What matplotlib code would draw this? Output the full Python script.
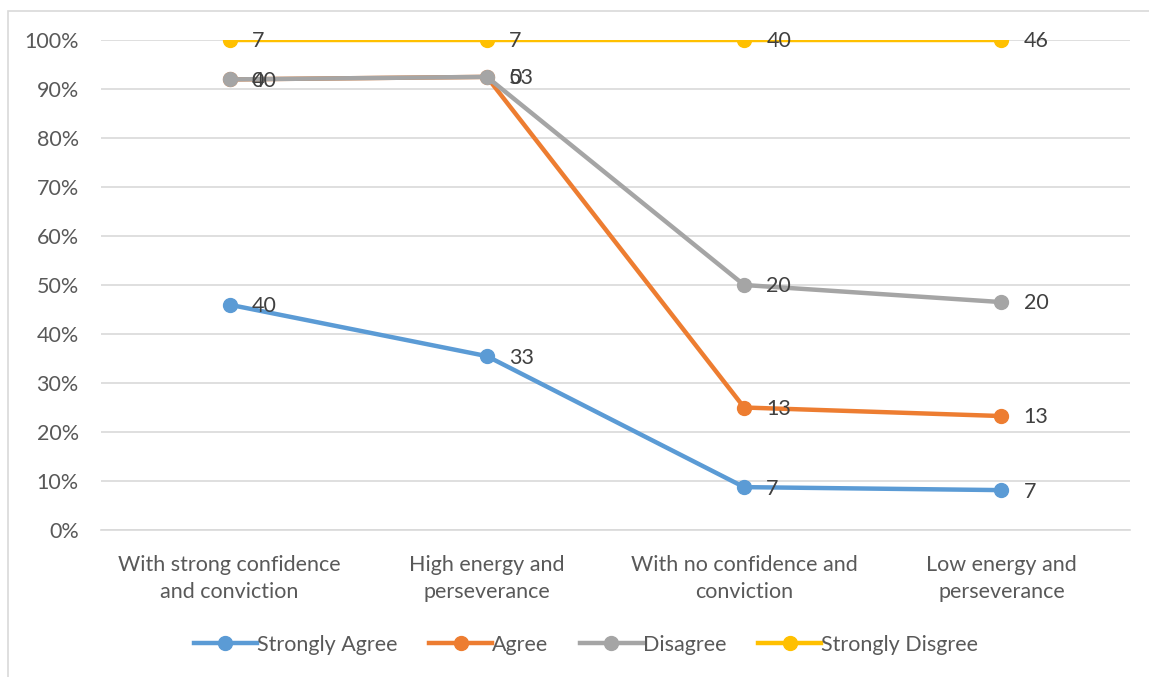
import numpy as np
import matplotlib.pyplot as plt
from matplotlib.patches import Rectangle

plt.rcParams['font.family'] = ['Lato', 'DejaVu Sans']

categories = ['With strong confidence\nand conviction', 'High energy and\nperseverance',
              'With no confidence and\nconviction', 'Low energy and\nperseverance']
series_names = ['Strongly Agree', 'Agree', 'Disagree', 'Strongly Disgree']
strongly_agree = [40, 33, 7, 7]
agree = [40, 53, 13, 13]
disagree = [0, 0, 20, 20]
strongly_disagree = [7, 7, 40, 46]
colors = ['#5B9BD5', '#ED7D31', '#A5A5A5', '#FFC000']

counts = np.array([strongly_agree, agree, disagree, strongly_disagree], dtype=float)
# 100% stacked line, like the Excel chart
cum = np.cumsum(counts, axis=0) / counts.sum(axis=0)

fs = 15.5
fig = plt.figure(figsize=(11.49, 6.77), dpi=100)
fig.patches.append(Rectangle((8 / 1149, -0.1), 1.2, 1 - 11 / 677 + 0.1, transform=fig.transFigure,
                             fill=False, edgecolor='#D9D9D9', linewidth=1.2))
ax = fig.add_axes([101 / 1149, 1 - 530 / 677, 1029 / 1149, 490 / 677])

x = np.arange(len(categories))
for i, name in enumerate(series_names):
    ax.plot(x, cum[i], color=colors[i], lw=3.2, marker='o', ms=10, label=name, zorder=3)
    for xi, yi, v in zip(x, cum[i], counts[i]):
        ax.annotate(f'{int(v)}', (xi, yi), xytext=(16, -1), textcoords='offset points',
                    ha='left', va='center', fontsize=fs, color='#404040', zorder=4)

ax.set_xlim(-0.5, 3.5)
ax.set_ylim(0, 1)
ax.set_yticks(np.arange(0, 1.01, 0.1))
ax.set_yticklabels([f'{int(round(t * 100))}%' for t in np.arange(0, 1.01, 0.1)])
ax.set_xticks(x)
ax.set_xticklabels(categories, linespacing=1.45)
ax.tick_params(axis='both', length=0, labelsize=fs, labelcolor='#595959')
ax.tick_params(axis='x', pad=18)
ax.tick_params(axis='y', pad=16)
ax.grid(axis='y', color='#D9D9D9', lw=1.2)
ax.set_axisbelow(True)
for s in ['top', 'right', 'left']:
    ax.spines[s].set_visible(False)
ax.spines['bottom'].set_color('#D9D9D9')
ax.spines['bottom'].set_linewidth(1.2)

fig.legend(loc='center', bbox_to_anchor=(586 / 1149, 1 - 645 / 677), ncol=4, frameon=False,
           fontsize=fs, handlelength=2.9, handletextpad=0.0, columnspacing=1.5,
           labelcolor='#595959')

fig.savefig('out.png', dpi=100)
